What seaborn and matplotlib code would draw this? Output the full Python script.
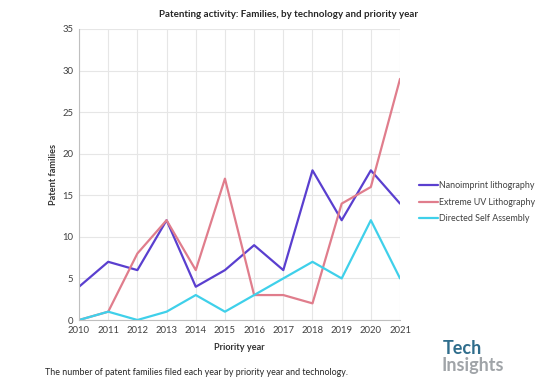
import pandas as pd
import seaborn as sns
import matplotlib.pyplot as plt

# Data
years = list(range(2010, 2022))
nanoimprint = [4, 7, 6, 12, 4, 6, 9, 6, 18, 12, 18, 14]
euv = [0, 1, 8, 12, 6, 17, 3, 3, 2, 14, 16, 29]
dsa = [0, 1, 0, 1, 3, 1, 3, 5, 7, 5, 12, 5]

series_names = ["Nanoimprint lithography", "Extreme UV Lithography", "Directed Self Assembly"]
colors = ["#5a3fcf", "#e07d8c", "#3fd0ea"]

df = pd.DataFrame({
    "Priority year": years * 3,
    "Patent families": nanoimprint + euv + dsa,
    "Technology": [series_names[0]] * 12 + [series_names[1]] * 12 + [series_names[2]] * 12,
})

sns.set_style("white")
plt.rcParams['font.family'] = ['Lato', 'DejaVu Sans']

fig = plt.figure(figsize=(5.53, 3.82), dpi=100)
ax = fig.add_axes([0.1429, 0.1623, 0.5805, 0.7618])

sns.lineplot(data=df, x="Priority year", y="Patent families", hue="Technology",
             hue_order=series_names, palette=colors, linewidth=1.6, ax=ax)

ax.set_xlim(2010, 2021)
ax.set_ylim(0, 35)
ax.set_xticks(years)
ax.set_yticks(range(0, 36, 5))
ax.tick_params(axis='both', labelsize=6.8, colors="#404040", length=0, pad=4)
ax.grid(True, color="#e6e6e6", linewidth=0.8)
for side in ["top", "right"]:
    ax.spines[side].set_visible(False)
for side in ["left", "bottom"]:
    ax.spines[side].set_color("#bfbfbf")
    ax.spines[side].set_linewidth(0.8)

ax.set_xlabel("Priority year", fontsize=6.6, fontweight="bold", color="#333333", labelpad=6)
ax.set_ylabel("Patent families", fontsize=6.6, fontweight="bold", color="#333333", labelpad=3)

ax.legend(loc="center left", bbox_to_anchor=(1.035, 0.405), frameon=False, fontsize=6.4,
          handlelength=2.1, handletextpad=0.1, labelspacing=0.85, labelcolor="#404040")

fig.text(0.521, 0.963, "Patenting activity: Families, by technology and priority year",
         ha="center", va="center", fontsize=7.0, fontweight="bold", color="#262626")
fig.text(0.081, 0.024, "The number of patent families filed each year by priority year and technology.",
         ha="left", va="center", fontsize=6.4, color="#262626")

# logo text
fig.text(0.800, 0.072, "Tech", ha="left", va="baseline", fontsize=13, fontweight="bold",
         color="#2f6d8c")
fig.text(0.798, 0.029, "Insights", ha="left", va="baseline", fontsize=13, fontweight="bold",
         color="#a0a4a8")

fig.savefig("out.png", dpi=100)
